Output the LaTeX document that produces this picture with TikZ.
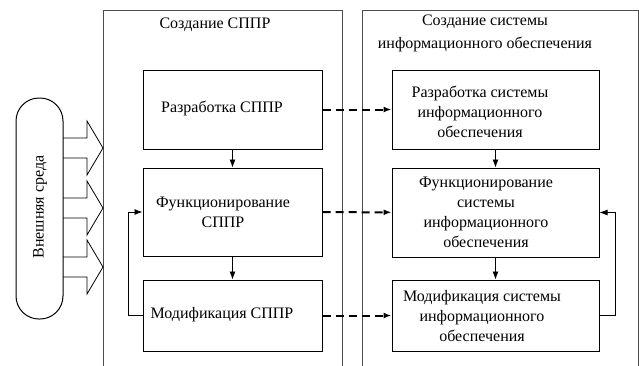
\documentclass[tikz,border=0pt]{standalone}
\usepackage{fontspec}
\setmainfont{Liberation Serif}
\newfontfamily\serifru{Liberation Serif}
\usetikzlibrary{arrows.meta}
\begin{document}
\begin{tikzpicture}[x=1pt,y=-1pt,
		frame/.style={draw=black!70,line width=0.9pt},
		lbox/.style={draw,line width=1pt,minimum width=179pt},
		rbox/.style={draw,line width=1pt,minimum width=207pt},
		txt/.style={align=center,font=\serifru\fontsize{16}{20}\selectfont},
		flow/.style={-{Latex[length=8pt,width=6pt]},line width=0.8pt},
		link/.style={-{Latex[length=8pt,width=6pt]},line width=2pt,dash pattern=on 8pt off 5pt}]
	\useasboundingbox (0,0) rectangle (639,365);
	% Frames
	\draw[frame] (103,370) -- (103,10) -- (342,10) -- (342,370);
	\draw[frame] (362,370) -- (362,10) -- (638,10) -- (638,370);
	\node[txt] (ttlL) at (215,25) {Создание СППР};
	\node[txt,font=\serifru\fontsize{16}{23}\selectfont] (ttlR) at (485,33) {Создание системы\\информационного обеспечения};
	% Environment
	\draw[line width=1pt,rounded corners=23pt] (16,98) rectangle (63,319);
	\node[txt,rotate=90] (env) at (40,207) {Внешняя среда};
	\foreach \y in {148,208,267}
		\draw[line width=0.8pt] (63,\y-10) -- (87,\y-10) -- (87,\y-27) -- (103,\y)
			-- (87,\y+27) -- (87,\y+10) -- (63,\y+10);
	% Boxes
	\node[lbox,minimum height=79pt] (devL) at (232.5,109.5) {};
	\node[lbox,minimum height=88pt] (runL) at (232.5,212) {};
	\node[lbox,minimum height=71pt] (modL) at (232.5,315.5) {};
	\node[rbox,minimum height=79pt] (devR) at (495.5,109.5) {};
	\node[rbox,minimum height=89pt] (runR) at (495.5,212.5) {};
	\node[rbox,minimum height=71pt] (modR) at (495.5,315.5) {};
	% Labels
	\node[txt] (devLt) at (222,108) {Разработка СППР};
	\node[txt] (runLt) at (223,212) {Функционирование\\СППР};
	\node[txt] (modLt) at (222,315) {Модификация СППР};
	\node[txt] (devRt) at (480,112) {Разработка системы\\информационного\\обеспечения};
	\node[txt] (runRt) at (486,212) {Функционирование\\системы\\информационного\\обеспечения};
	\node[txt] (modRt) at (482,316) {Модификация системы\\информационного\\обеспечения};
	% Arrows
	\draw[flow] (devL) -- (runL);
	\draw[flow] (runL) -- (modL);
	\draw[flow] (devR) -- (runR);
	\draw[flow] (runR) -- (modR);
	\draw[flow] (modL.west) -- ++(-14,0) |- (runL.west);
	\draw[flow] (modR.east) -- ++(16,0) |- (runR.east);
	\draw[link] (devL) -- (devR);
	\draw[link] (runL) -- (runR);
	\draw[link] (modL) -- (modR);
\end{tikzpicture}
\end{document}
